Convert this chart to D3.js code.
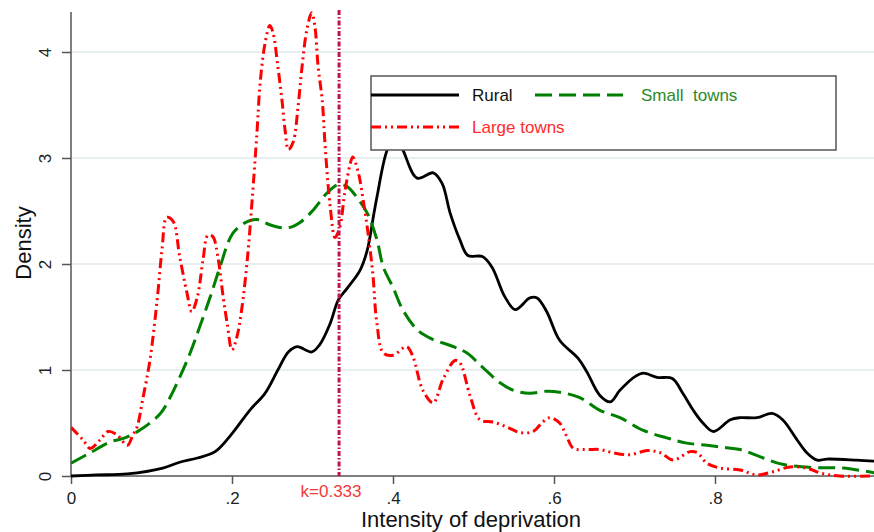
<!DOCTYPE html>
<html>
  <head>
    <title>Intensity of deprivation</title>
    <script src="https://d3js.org/d3.v7.min.js"></script>
    <style>
      body {
        margin: 0;
        background: #fff;
      }
      svg {
        display: block;
        font-family: "Liberation Sans", Arial, sans-serif;
      }
    </style>
  </head>
  <body>
    <svg id="chart"></svg>
    <script>
      // densities: [intensity, density]
      const rural = [
        [0, 0], [0.032, 0.01], [0.07, 0.02], [0.114, 0.075], [0.135, 0.13], [0.157, 0.17],
        [0.179, 0.23], [0.201, 0.41], [0.222, 0.62], [0.241, 0.78], [0.257, 1.0], [0.27, 1.17],
        [0.281, 1.22], [0.299, 1.17], [0.309, 1.24], [0.322, 1.44], [0.332, 1.66], [0.343, 1.77],
        [0.359, 1.94], [0.368, 2.13], [0.375, 2.42], [0.38, 2.63], [0.393, 3.08], [0.403, 3.2],
        [0.412, 3.08], [0.43, 2.81], [0.45, 2.86], [0.461, 2.76], [0.471, 2.48], [0.483, 2.23],
        [0.493, 2.08], [0.511, 2.07], [0.523, 1.97], [0.539, 1.69], [0.552, 1.57], [0.57, 1.68],
        [0.579, 1.68], [0.591, 1.55], [0.607, 1.28], [0.63, 1.11], [0.641, 0.98], [0.657, 0.76],
        [0.67, 0.7], [0.682, 0.81], [0.701, 0.94], [0.711, 0.97], [0.728, 0.93], [0.747, 0.92],
        [0.76, 0.78], [0.773, 0.62], [0.785, 0.5], [0.798, 0.42], [0.819, 0.53], [0.831, 0.55],
        [0.852, 0.55], [0.871, 0.59], [0.884, 0.53], [0.902, 0.34], [0.914, 0.22], [0.927, 0.15],
        [0.939, 0.16], [0.976, 0.15], [0.998, 0.14]
      ];

      const smallTowns = [
        [0, 0.12], [0.024, 0.22], [0.048, 0.32], [0.067, 0.36], [0.089, 0.45], [0.111, 0.59],
        [0.123, 0.74], [0.135, 0.93], [0.148, 1.16], [0.16, 1.41], [0.173, 1.69], [0.185, 1.97],
        [0.201, 2.29], [0.219, 2.4], [0.231, 2.42], [0.247, 2.37], [0.268, 2.34], [0.284, 2.39],
        [0.301, 2.51], [0.318, 2.67], [0.332, 2.75], [0.343, 2.73], [0.355, 2.63], [0.368, 2.48],
        [0.38, 2.23], [0.388, 1.97], [0.4, 1.78], [0.412, 1.57], [0.43, 1.38], [0.446, 1.3],
        [0.475, 1.22], [0.492, 1.16], [0.512, 1.02], [0.533, 0.88], [0.549, 0.81], [0.57, 0.78],
        [0.591, 0.8], [0.607, 0.79], [0.632, 0.74], [0.657, 0.62], [0.682, 0.55], [0.711, 0.43],
        [0.74, 0.36], [0.765, 0.31], [0.79, 0.29], [0.81, 0.27], [0.831, 0.25], [0.86, 0.17],
        [0.884, 0.11], [0.922, 0.08], [0.959, 0.075], [0.998, 0.03]
      ];

      const largeTowns = [
        [0, 0.46], [0.015, 0.34], [0.024, 0.26], [0.036, 0.34], [0.046, 0.42], [0.057, 0.39],
        [0.07, 0.29], [0.077, 0.39], [0.082, 0.46], [0.089, 0.72], [0.098, 1.09], [0.107, 1.66],
        [0.113, 2.13], [0.119, 2.44], [0.127, 2.4], [0.135, 2.07], [0.144, 1.73], [0.15, 1.55],
        [0.157, 1.69], [0.164, 2.04], [0.17, 2.27], [0.176, 2.26], [0.183, 2.04], [0.189, 1.69],
        [0.194, 1.44], [0.2, 1.19], [0.206, 1.31], [0.212, 1.57], [0.219, 2.04], [0.225, 2.6],
        [0.231, 3.24], [0.235, 3.71], [0.241, 4.08], [0.247, 4.25], [0.251, 4.18], [0.257, 3.86],
        [0.262, 3.55], [0.266, 3.26], [0.27, 3.08], [0.276, 3.15], [0.282, 3.48], [0.287, 3.86],
        [0.293, 4.21], [0.299, 4.37], [0.303, 4.24], [0.307, 3.86], [0.312, 3.55], [0.316, 3.08],
        [0.322, 2.54], [0.328, 2.25], [0.334, 2.35], [0.34, 2.67], [0.347, 2.95], [0.35, 3.01],
        [0.357, 2.86], [0.363, 2.6], [0.369, 2.29], [0.375, 1.9], [0.38, 1.44], [0.388, 1.16],
        [0.4, 1.14], [0.417, 1.22], [0.425, 1.12], [0.437, 0.81], [0.45, 0.69], [0.462, 0.91],
        [0.477, 1.09], [0.483, 1.07], [0.496, 0.75], [0.508, 0.53], [0.524, 0.51], [0.542, 0.46],
        [0.558, 0.41], [0.574, 0.42], [0.586, 0.51], [0.595, 0.55], [0.607, 0.5], [0.616, 0.37],
        [0.624, 0.26], [0.641, 0.25], [0.657, 0.25], [0.673, 0.22], [0.694, 0.2], [0.716, 0.24],
        [0.732, 0.22], [0.748, 0.15], [0.769, 0.23], [0.778, 0.22], [0.79, 0.12], [0.806, 0.075],
        [0.831, 0.057], [0.852, 0.01], [0.872, 0.04], [0.893, 0.085], [0.914, 0.075], [0.93, 0.03],
        [0.955, 0], [0.998, 0]
      ];

      const xTicks = [0, 0.2, 0.4, 0.6, 0.8];
      const xTickLabels = ["0", ".2", ".4", ".6", ".8"];
      const yTicks = [0, 1, 2, 3, 4];
      const cutoff = 0.333;
      const cutoffLabel = "k=0.333";

      const width = 874;
      const height = 532;

      const svg = d3.select("#chart").attr("width", width).attr("height", height);

      // plot runs past the right edge of the picture (1.0 sits just off-canvas)
      const x = d3.scaleLinear([0, 1], [71, 876]);
      const y = d3.scaleLinear([0, 4], [476, 52]);

      svg.append("clipPath").attr("id", "plotClip")
        .append("rect").attr("x", 71).attr("y", 8).attr("width", 805).attr("height", 470);

      // grid lines
      svg.append("g")
        .selectAll("line")
        .data(yTicks.filter(d => d > 0))
        .join("line")
        .attr("x1", 72)
        .attr("x2", width)
        .attr("y1", d => y(d))
        .attr("y2", d => y(d))
        .attr("stroke", "#e7eff1")
        .attr("stroke-width", 2);

      // y axis
      const gy = svg.append("g")
        .attr("transform", "translate(71,0)")
        .call(d3.axisLeft(y).tickValues(yTicks).tickSize(9).tickFormat(d3.format("d")));
      gy.select(".domain").attr("d", "M0,12V476").attr("stroke", "#555").attr("stroke-width", 1.5);
      gy.selectAll(".tick line").attr("stroke", "#555").attr("stroke-width", 1.5);
      gy.selectAll(".tick text")
        .attr("x", 0)
        .attr("y", 0)
        .attr("dy", 0)
        .attr("transform", "translate(-20,0) rotate(-90)")
        .attr("text-anchor", "middle")
        .style("font-size", "17px")
        .attr("fill", "#222");

      // x axis
      const gx = svg.append("g")
        .attr("transform", "translate(0,476)")
        .call(d3.axisBottom(x).tickValues(xTicks).tickSize(8).tickFormat((d, i) => xTickLabels[i]));
      gx.select(".domain").attr("d", "M71,0H874").attr("stroke", "#555").attr("stroke-width", 1.5);
      gx.selectAll(".tick line").attr("stroke", "#555").attr("stroke-width", 1.5);
      gx.selectAll(".tick text")
        .attr("y", 16)
        .style("font-size", "17px")
        .attr("fill", "#222");

      // axis titles
      svg.append("text")
        .attr("x", 471)
        .attr("y", 527)
        .attr("text-anchor", "middle")
        .style("font-size", "22px")
        .attr("fill", "#111")
        .text("Intensity of deprivation");

      svg.append("text")
        .attr("transform", "translate(31,243) rotate(-90)")
        .attr("text-anchor", "middle")
        .style("font-size", "22px")
        .attr("fill", "#111")
        .text("Density");

      const line = d3.line()
        .x(d => x(d[0]))
        .y(d => y(d[1]))
        .curve(d3.curveCatmullRom.alpha(0.5));

      const plot = svg.append("g").attr("clip-path", "url(#plotClip)");

      const series = [
        { name: "Rural", data: rural, color: "#000", dash: null, w: 2.8 },
        { name: "Small  towns", data: smallTowns, color: "#008000", dash: "17,7", w: 3 },
        { name: "Large towns", data: largeTowns, color: "#ff0000", dash: "10,4,2,4,2,4", w: 3 }
      ];

      plot.selectAll("path.series")
        .data(series)
        .join("path")
        .attr("class", "series")
        .attr("d", d => line(d.data))
        .attr("fill", "none")
        .attr("stroke", d => d.color)
        .attr("stroke-width", d => d.w)
        .attr("stroke-dasharray", d => d.dash)
        .attr("stroke-linejoin", "round");

      // cut-off line
      plot.append("line")
        .attr("x1", x(cutoff))
        .attr("x2", x(cutoff))
        .attr("y1", 10)
        .attr("y2", 476)
        .attr("stroke", "#c2124c")
        .attr("stroke-width", 3)
        .attr("stroke-dasharray", "5,2,1.5,2");

      svg.append("text")
        .attr("x", x(cutoff) - 8)
        .attr("y", 497)
        .attr("text-anchor", "middle")
        .style("font-size", "17px")
        .attr("fill", "#f23a3a")
        .text(cutoffLabel);

      // legend
      const legend = svg.append("g");
      legend.append("rect")
        .attr("x", 371)
        .attr("y", 76)
        .attr("width", 465)
        .attr("height", 74)
        .attr("fill", "#fff")
        .attr("stroke", "#555")
        .attr("stroke-width", 1.5);

      const legendPos = [
        { lx: 371, tx: 472, yy: 95, text: "#111" },
        { lx: 535, tx: 641, yy: 95, text: "#2b8a2b" },
        { lx: 371, tx: 472, yy: 127, text: "#ff2b2b" }
      ];

      series.forEach((s, i) => {
        const p = legendPos[i];
        legend.append("line")
          .attr("x1", p.lx)
          .attr("x2", p.lx + 88)
          .attr("y1", p.yy)
          .attr("y2", p.yy)
          .attr("stroke", s.color)
          .attr("stroke-width", s.w)
          .attr("stroke-dasharray", s.dash);
        legend.append("text")
          .attr("x", p.tx)
          .attr("y", p.yy + 6)
          .style("white-space", "pre")
          .style("font-size", "17px")
          .attr("fill", p.text)
          .text(s.name);
      });
    </script>
  </body>
</html>
